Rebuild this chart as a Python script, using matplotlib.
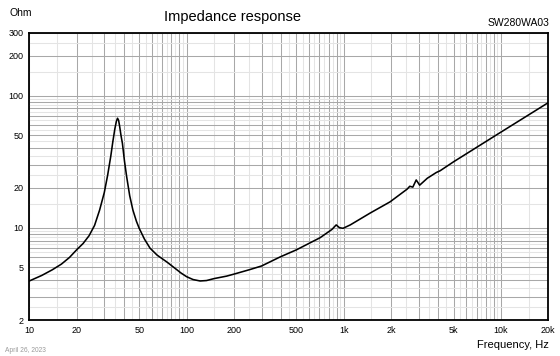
import matplotlib
matplotlib.use("Agg")
import matplotlib.pyplot as plt
from matplotlib.ticker import FixedLocator, FixedFormatter, NullFormatter

plt.rcParams['font.family'] = ['Liberation Sans', 'DejaVu Sans']

# impedance curve (Hz, Ohm)
freq = [10, 12, 14, 16, 18, 20, 22, 24, 26, 28, 30, 31.5, 33, 34, 35, 35.8, 36.4,
        37.0, 37.6, 38.3, 39.1, 40.3, 41.6, 43.5, 45.6, 48, 50, 54, 58.6, 65, 75,
        85, 92, 100, 110, 122, 134, 150, 180, 200, 250, 300, 393, 500, 707, 841,
        895, 940, 990, 1100, 1470, 1970, 2530, 2630, 2750, 2890, 3040, 3400, 3880,
        4100, 5000, 10000, 20000]
impedance = [3.95, 4.35, 4.8, 5.3, 5.95, 6.8, 7.6, 8.7, 10.4, 13.6, 18.5, 25, 35,
             45, 56, 64, 67.5, 65, 58, 50, 43.6, 32, 24.4, 17.5, 13.6, 11.2, 9.9,
             8.2, 7.0, 6.2, 5.5, 4.9, 4.55, 4.26, 4.05, 3.95, 3.98, 4.12, 4.3, 4.45,
             4.8, 5.13, 6.0, 6.8, 8.4, 9.7, 10.5, 10.0, 9.9, 10.5, 12.9, 15.7, 19.6,
             20.6, 20.3, 23.0, 21.0, 23.7, 26.2, 27.0, 31.6, 53, 88.6]

x_labels = {10: '10', 20: '20', 50: '50', 100: '100', 200: '200', 500: '500',
            1000: '1k', 2000: '2k', 5000: '5k', 10000: '10k', 20000: '20k'}
y_labels = {2: '2', 5: '5', 10: '10', 20: '20', 50: '50', 100: '100', 200: '200', 300: '300'}

title = 'Impedance response'
model = 'SW280WA03'
date = 'April 26, 2023'

W, H = 560, 356
fig = plt.figure(figsize=(W / 100, H / 100), dpi=100)
ax = fig.add_axes([29.3 / W, 1 - 320 / H, (548.3 - 29.3) / W, (320 - 32.7) / H])

ax.plot(freq, impedance, color='black', lw=1.15, zorder=3)
ax.set_xscale('log')
ax.set_yscale('log')
ax.set_xlim(10, 20000)
ax.set_ylim(2, 300)

# grid: every 1..9 multiple darker, half steps light
xmaj = [m * d for d in (10, 100, 1000, 10000) for m in range(1, 10) if m * d <= 20000]
xmin = [(m + 0.5) * d for d in (10, 100, 1000, 10000) for m in range(1, 10) if (m + 0.5) * d < 20000]
ymaj = [m * d for d in (1, 10, 100) for m in range(1, 10) if 2 <= m * d <= 300]
ymin = [(m + 0.5) * d for d in (1, 10, 100) for m in range(1, 10) if 2 < (m + 0.5) * d < 300]

ax.xaxis.set_major_locator(FixedLocator(xmaj))
ax.xaxis.set_major_formatter(FixedFormatter([x_labels.get(v, '') for v in xmaj]))
ax.xaxis.set_minor_locator(FixedLocator(xmin))
ax.xaxis.set_minor_formatter(NullFormatter())
ax.yaxis.set_major_locator(FixedLocator(ymaj))
ax.yaxis.set_major_formatter(FixedFormatter([y_labels.get(v, '') for v in ymaj]))
ax.yaxis.set_minor_locator(FixedLocator(ymin))
ax.yaxis.set_minor_formatter(NullFormatter())

ax.grid(which='major', color='#a8a8a8', lw=0.75)
ax.grid(which='minor', color='#e4e4e4', lw=0.75)
ax.set_axisbelow(True)
ax.tick_params(which='both', length=0, labelsize=6.5, colors='black')
ax.tick_params(axis='x', pad=4)
ax.tick_params(axis='y', pad=4)
for s in ax.spines.values():
    s.set_linewidth(1.3)
    s.set_color('black')

fig.text(9 / W, 1 - 13.5 / H, 'Ohm', fontsize=7.5, ha='left', va='center')
fig.text(232.5 / W, 1 - 17.5 / H, title, fontsize=10.5, ha='center', va='center')
fig.text(549 / W, 1 - 23 / H, model, fontsize=7.5, ha='right', va='center')
fig.text(549 / W, 1 - 345 / H, 'Frequency, Hz', fontsize=8, ha='right', va='center')
fig.text(5 / W, 1 - 350 / H, date, fontsize=4.8, ha='left', va='center', color='#9a9a9a')

fig.savefig('out.png', dpi=100)
